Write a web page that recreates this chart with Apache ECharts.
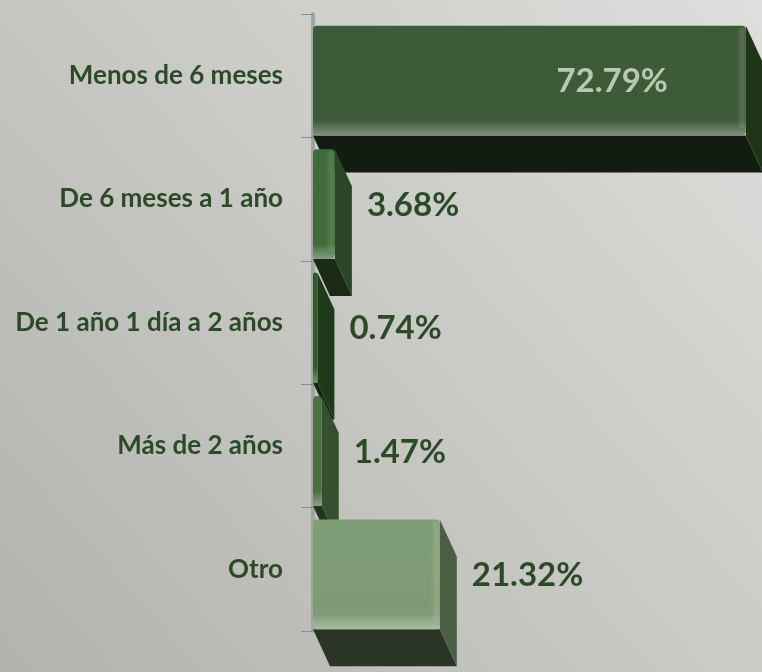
<!DOCTYPE html>
<html>
<head>
<meta charset="utf-8">
<script src="https://cdn.jsdelivr.net/npm/echarts@6/dist/echarts.min.js"></script>
<style>
  html, body { margin: 0; padding: 0; }
  #chart { width: 762px; height: 672px; }
</style>
</head>
<body>
<div id="chart"></div>
<script>
// categorías y porcentajes
const categories = ['Menos de 6 meses', 'De 6 meses a 1 año', 'De 1 año 1 día a 2 años', 'Más de 2 años', 'Otro'];
const shares = [72.79, 3.68, 0.74, 1.47, 21.32];

// colores de cada barra: cara, lado, fondo
const frontColors = ['#3d5a38', '#3f6a3a', '#2f5a2a', '#4b6e45', '#7d9a74'];
const sideColors = ['#1f3419', '#2a4626', '#1f3a1b', '#34502f', '#4a5f43'];
const bottomColors = ['#131c10', '#1a2a16', '#142612', '#22361f', '#2b3526'];

const depthX = 17, depthY = 37;

const chart = echarts.init(document.getElementById('chart'));

function renderBar(params, api) {
    const i = params.dataIndex;
    const value = api.value(0);
    const start = api.coord([0, api.value(1)]);
    const end = api.coord([value, api.value(1)]);
    const band = api.size([0, 1])[1];
    const h = band * 0.89;
    const top = start[1] - h / 2 + 5;
    const bottom = top + h;
    const x0 = start[0], x1 = end[0];
    const front = frontColors[i];
    const children = [
        {
            type: 'polygon',
            shape: { points: [[x0, bottom], [x1, bottom], [x1 + depthX, bottom + depthY], [x0 + depthX, bottom + depthY]] },
            style: { fill: bottomColors[i] }
        },
        {
            type: 'polygon',
            shape: { points: [[x1, top], [x1 + depthX, top + depthY], [x1 + depthX, bottom + depthY], [x1, bottom]] },
            style: { fill: sideColors[i] }
        },
        {
            type: 'rect',
            shape: { x: x0, y: top, width: x1 - x0, height: h, r: 4 },
            style: {
                fill: new echarts.graphic.LinearGradient(0, 0, 0, 1, [
                    { offset: 0, color: echarts.color.lift(front, -0.02) },
                    { offset: 0.86, color: front },
                    { offset: 1, color: echarts.color.lift(front, 0.35) }
                ])
            }
        }
    ];
    if (x1 - x0 > 12) {
        // bisel del borde derecho
        children.push({
            type: 'rect',
            shape: { x: x1 - 9, y: top + 2, width: 9, height: h - 10, r: 3 },
            style: {
                fill: new echarts.graphic.LinearGradient(0, 0, 1, 0, [
                    { offset: 0, color: 'rgba(255,255,255,0)' },
                    { offset: 0.6, color: 'rgba(255,255,255,0.13)' },
                    { offset: 1, color: 'rgba(255,255,255,0.03)' }
                ])
            }
        });
    }
    const inside = value > 50;
    children.push({
        type: 'text',
        style: {
            text: value.toFixed(2) + '%',
            x: inside ? x1 - 78 : x1 + depthX + 15,
            y: start[1] + 6,
            align: inside ? 'right' : 'left',
            verticalAlign: 'middle',
            fill: inside ? '#b7cab0' : '#2c4a27',
            font: 'bold 33px Lato'
        }
    });
    return { type: 'group', children: children };
}

const option = {
    backgroundColor: new echarts.graphic.LinearGradient(1, 0, 0, 1, [
        { offset: 0, color: '#dededc' },
        { offset: 1, color: '#b2b3ad' }
    ]),
    grid: { left: 313, right: 0, top: 14, bottom: 41 },
    xAxis: {
        type: 'value',
        min: 0,
        max: 75.5,
        show: false
    },
    yAxis: {
        type: 'category',
        inverse: true,
        data: categories,
        axisLine: { lineStyle: { color: '#a3a4a0', width: 4 } },
        axisTick: { show: true, length: 12, lineStyle: { color: '#8a8a88', width: 1 } },
        axisLabel: {
            margin: 30,
            color: '#2c4a27',
            fontFamily: 'Lato',
            fontWeight: 'bold',
            fontSize: 26
        }
    },
    series: [{
        type: 'custom',
        renderItem: renderBar,
        clip: false,
        encode: { x: 0, y: 1 },
        data: shares.map((v, i) => [v, i])
    }]
};
chart.setOption(option);

// piso en perspectiva bajo el eje
const floor = chart.convertToPixel({ gridIndex: 0 }, [0, categories.length - 0.5]);
chart.setOption({
    graphic: [{
        type: 'line',
        z: -1,
        shape: { x1: floor[0], y1: floor[1], x2: floor[0] + depthX, y2: floor[1] + depthY },
        style: { stroke: '#a3a4a0', lineWidth: 4 }
    }]
});
</script>
</body>
</html>
